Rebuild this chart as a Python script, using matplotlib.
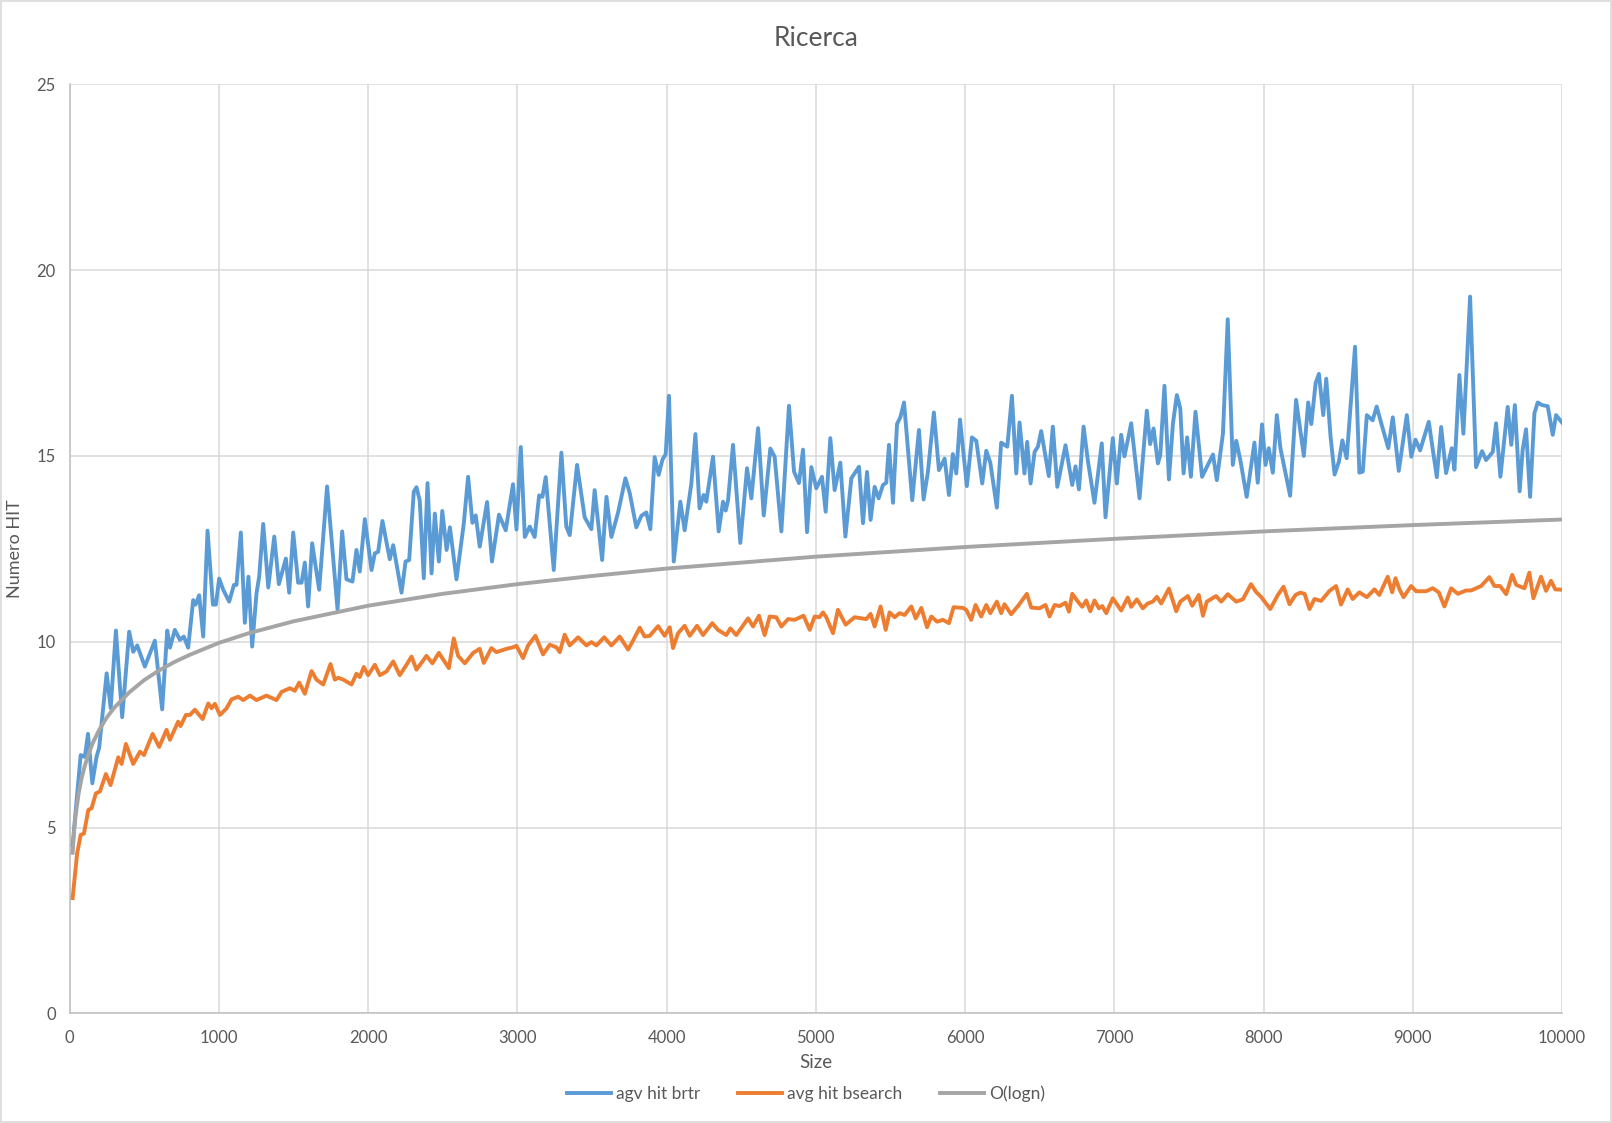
import matplotlib
matplotlib.use("Agg")
import matplotlib.pyplot as plt
from matplotlib.patches import Rectangle

title = "Ricerca"
x_label = "Size"
y_label = "Numero HIT"
series_names = ["agv hit brtr", "avg hit bsearch", "O(logn)"]
x_ticks = list(range(0, 10001, 1000))
y_ticks = [0, 5, 10, 15, 20, 25]

brtr_size = [20, 74, 102, 123, 152, 180, 198, 248, 275, 310, 352, 399, 426, 453, 504, 571, 620, 654, 672, 705,
             739, 765, 794, 828, 844, 868, 895, 924, 960, 980, 1002, 1029, 1069, 1101, 1118, 1147, 1174, 1198, 1223, 1252,
             1270, 1297, 1331, 1371, 1402, 1449, 1471, 1498, 1531, 1554, 1576, 1598, 1625, 1672, 1725, 1795, 1826, 1855, 1895, 1922,
             1944, 1978, 2023, 2045, 2067, 2096, 2145, 2168, 2224, 2251, 2275, 2306, 2324, 2346, 2373, 2398, 2425, 2447, 2474, 2497,
             2526, 2548, 2592, 2641, 2670, 2699, 2721, 2748, 2797, 2830, 2877, 2922, 2971, 2994, 3023, 3050, 3083, 3116, 3146, 3168,
             3190, 3244, 3295, 3328, 3351, 3400, 3451, 3496, 3518, 3568, 3597, 3630, 3675, 3724, 3753, 3797, 3831, 3864, 3891, 3920,
             3947, 3972, 3994, 4016, 4048, 4092, 4121, 4166, 4193, 4221, 4248, 4266, 4311, 4349, 4378, 4396, 4412, 4445, 4494, 4539,
             4568, 4613, 4651, 4695, 4724, 4769, 4820, 4854, 4887, 4914, 4941, 4970, 5003, 5041, 5066, 5097, 5126, 5164, 5198, 5238,
             5289, 5316, 5343, 5367, 5394, 5421, 5450, 5472, 5490, 5517, 5544, 5566, 5591, 5646, 5691, 5722, 5751, 5791, 5825, 5863,
             5892, 5918, 5941, 5966, 6012, 6046, 6075, 6115, 6142, 6169, 6213, 6242, 6283, 6314, 6343, 6365, 6398, 6416, 6439, 6466,
             6488, 6510, 6561, 6588, 6618, 6673, 6718, 6740, 6763, 6794, 6823, 6867, 6916, 6941, 6990, 7017, 7046, 7068, 7090, 7113,
             7169, 7218, 7240, 7263, 7292, 7308, 7336, 7366, 7393, 7419, 7442, 7464, 7488, 7513, 7544, 7588, 7661, 7687, 7728, 7760,
             7794, 7817, 7845, 7887, 7939, 7961, 7990, 8013, 8035, 8062, 8089, 8113, 8178, 8218, 8270, 8299, 8320, 8349, 8371, 8400,
             8420, 8449, 8476, 8505, 8528, 8557, 8613, 8642, 8665, 8692, 8731, 8758, 8795, 8836, 8866, 8906, 8960, 8990, 9018, 9049,
             9107, 9161, 9190, 9223, 9261, 9279, 9312, 9339, 9384, 9424, 9464, 9491, 9536, 9558, 9587, 9613, 9636, 9660, 9684, 9716,
             9736, 9759, 9786, 9815, 9837, 9866, 9904, 9938, 9960, 10000]
brtr_hits = [4.53, 6.95, 6.90, 7.52, 6.19, 6.90, 7.15, 9.15, 8.21, 10.30, 7.97, 10.27, 9.73, 9.90, 9.33, 10.03, 8.18, 10.30, 9.84, 10.32,
             10.05, 10.14, 9.84, 11.12, 11.00, 11.25, 10.14, 12.99, 11.00, 11.00, 11.70, 11.40, 11.08, 11.53, 11.53, 12.94, 10.51, 11.75, 9.87, 11.30,
             11.75, 13.17, 11.46, 12.83, 11.55, 12.24, 11.32, 12.94, 11.59, 11.59, 12.13, 10.95, 12.65, 11.40, 14.18, 10.87, 12.97, 11.68, 11.62, 12.47,
             11.89, 13.30, 11.93, 12.38, 12.42, 13.25, 12.22, 12.60, 11.32, 12.16, 12.20, 14.04, 14.16, 13.80, 11.71, 14.27, 11.84, 13.45, 12.16, 13.52,
             12.47, 13.08, 11.68, 13.18, 14.44, 13.20, 13.40, 12.56, 13.76, 12.16, 13.42, 13.00, 14.24, 13.02, 15.24, 12.82, 13.10, 12.82, 13.94, 13.90,
             14.43, 11.93, 15.09, 13.10, 12.87, 14.76, 13.35, 13.03, 14.08, 12.20, 13.90, 12.82, 13.48, 14.40, 14.00, 13.08, 13.39, 13.48, 13.03, 14.97,
             14.49, 14.90, 15.05, 16.62, 12.16, 13.77, 13.00, 14.26, 15.59, 13.59, 13.95, 13.77, 14.98, 12.97, 13.77, 13.53, 13.81, 15.30, 12.66, 14.67,
             13.86, 15.75, 13.40, 15.20, 14.98, 12.97, 16.35, 14.58, 14.27, 15.17, 12.95, 14.70, 14.13, 14.44, 13.50, 15.48, 14.08, 14.82, 12.83, 14.40,
             14.71, 13.19, 14.57, 13.28, 14.17, 13.86, 14.22, 14.28, 15.30, 13.74, 15.86, 16.04, 16.44, 13.81, 15.70, 13.83, 14.57, 16.17, 14.62, 14.93,
             13.95, 15.05, 14.53, 15.98, 14.19, 15.50, 15.41, 14.26, 15.14, 14.82, 13.61, 15.36, 15.25, 16.62, 14.53, 15.90, 14.53, 15.38, 14.26, 15.11,
             15.25, 15.67, 14.46, 15.79, 14.17, 15.29, 14.22, 14.72, 14.10, 15.79, 14.87, 13.74, 15.34, 13.35, 15.48, 14.26, 15.57, 14.99, 15.43, 15.88,
             13.86, 16.22, 15.32, 15.74, 14.80, 15.02, 16.89, 14.37, 15.88, 16.64, 16.28, 14.53, 15.50, 14.44, 16.19, 14.44, 15.04, 14.35, 15.61, 18.68,
             14.76, 15.41, 14.88, 13.90, 15.36, 14.28, 15.85, 14.76, 15.21, 14.55, 16.10, 15.21, 13.93, 16.51, 15.00, 16.44, 15.86, 16.96, 17.21, 16.10,
             17.08, 15.52, 14.50, 14.85, 15.42, 14.94, 17.94, 14.55, 14.58, 16.10, 15.96, 16.33, 15.79, 15.21, 16.04, 14.60, 16.10, 14.98, 15.44, 15.15,
             15.92, 14.43, 15.78, 14.54, 15.21, 14.63, 17.18, 15.60, 19.29, 14.70, 15.13, 14.89, 15.11, 15.88, 14.44, 15.43, 16.32, 15.30, 16.37, 14.05,
             15.16, 15.72, 13.90, 16.15, 16.44, 16.37, 16.34, 15.57, 16.10, 15.90]

bsearch_size = [20, 50, 74, 96, 125, 147, 176, 203, 243, 274, 326, 348, 377, 426, 471, 498, 556, 600, 649, 672,
                727, 743, 779, 806, 839, 891, 929, 951, 973, 1007, 1050, 1085, 1129, 1163, 1208, 1252, 1319, 1386, 1420, 1476,
                1509, 1538, 1576, 1621, 1654, 1699, 1748, 1777, 1800, 1833, 1889, 1922, 1944, 1971, 2000, 2045, 2079, 2123, 2168, 2212,
                2257, 2291, 2324, 2391, 2431, 2474, 2541, 2574, 2603, 2648, 2704, 2748, 2775, 2826, 2860, 2927, 2971, 2994, 3038, 3072,
                3121, 3172, 3217, 3262, 3284, 3317, 3351, 3407, 3463, 3496, 3530, 3582, 3630, 3686, 3742, 3775, 3820, 3853, 3887, 3943,
                3987, 4021, 4043, 4077, 4121, 4155, 4204, 4244, 4306, 4344, 4400, 4427, 4467, 4546, 4579, 4619, 4657, 4691, 4735, 4769,
                4814, 4858, 4918, 4959, 4992, 5025, 5048, 5070, 5115, 5148, 5200, 5260, 5338, 5367, 5394, 5434, 5468, 5494, 5528, 5561,
                5595, 5640, 5669, 5707, 5745, 5774, 5812, 5852, 5892, 5923, 5986, 6008, 6041, 6070, 6108, 6142, 6169, 6213, 6242, 6264,
                6309, 6360, 6414, 6443, 6499, 6539, 6566, 6600, 6633, 6673, 6696, 6718, 6756, 6785, 6812, 6839, 6867, 6897, 6919, 6946,
                6990, 7046, 7090, 7113, 7151, 7191, 7224, 7258, 7285, 7314, 7366, 7415, 7442, 7493, 7522, 7566, 7594, 7620, 7682, 7716,
                7760, 7817, 7861, 7916, 7950, 7983, 8045, 8096, 8134, 8174, 8214, 8245, 8275, 8308, 8341, 8386, 8442, 8486, 8519, 8564,
                8597, 8642, 8692, 8743, 8776, 8832, 8862, 8884, 8911, 8938, 8989, 9022, 9089, 9134, 9174, 9212, 9257, 9302, 9357, 9391,
                9458, 9513, 9547, 9585, 9626, 9666, 9693, 9748, 9781, 9808, 9859, 9893, 9926, 9955, 10000]
bsearch_hits = [3.10, 4.30, 4.80, 4.84, 5.47, 5.52, 5.92, 5.97, 6.44, 6.14, 6.89, 6.71, 7.25, 6.71, 7.04, 6.95, 7.52, 7.17, 7.63, 7.36,
                7.85, 7.73, 8.03, 8.03, 8.17, 7.92, 8.34, 8.21, 8.33, 8.03, 8.20, 8.45, 8.52, 8.43, 8.55, 8.43, 8.55, 8.43, 8.65, 8.75,
                8.68, 8.90, 8.60, 9.21, 8.98, 8.85, 9.40, 8.98, 9.03, 8.98, 8.85, 9.14, 9.05, 9.32, 9.10, 9.38, 9.10, 9.20, 9.47, 9.10,
                9.38, 9.60, 9.25, 9.62, 9.42, 9.70, 9.29, 10.09, 9.62, 9.42, 9.70, 9.81, 9.43, 9.83, 9.72, 9.81, 9.85, 9.89, 9.56, 9.90,
                10.16, 9.66, 9.92, 9.85, 9.72, 10.19, 9.90, 10.12, 9.90, 9.99, 9.90, 10.12, 9.90, 10.14, 9.79, 10.03, 10.38, 10.14, 10.16, 10.42,
                10.16, 10.39, 9.83, 10.23, 10.43, 10.16, 10.43, 10.18, 10.50, 10.32, 10.18, 10.36, 10.18, 10.63, 10.41, 10.70, 10.18, 10.68, 10.66, 10.41,
                10.61, 10.59, 10.70, 10.32, 10.68, 10.66, 10.79, 10.66, 10.23, 10.86, 10.46, 10.66, 10.61, 10.75, 10.41, 10.95, 10.32, 10.79, 10.66, 10.77,
                10.72, 10.95, 10.63, 10.91, 10.39, 10.68, 10.54, 10.59, 10.50, 10.93, 10.91, 10.86, 10.59, 10.99, 10.68, 10.99, 10.77, 11.08, 10.77, 11.01,
                10.74, 10.99, 11.29, 10.92, 10.90, 10.99, 10.68, 10.99, 10.96, 11.05, 10.81, 11.29, 11.08, 10.94, 11.11, 10.82, 11.11, 10.90, 10.96, 10.77,
                11.17, 10.84, 11.19, 10.94, 11.14, 10.90, 11.03, 11.08, 11.21, 11.03, 11.43, 10.82, 11.08, 11.23, 10.97, 11.26, 10.70, 11.08, 11.23, 11.08,
                11.28, 11.08, 11.14, 11.55, 11.34, 11.21, 10.88, 11.26, 11.48, 11.01, 11.26, 11.32, 11.29, 10.88, 11.15, 11.10, 11.37, 11.50, 11.00, 11.41,
                11.15, 11.33, 11.20, 11.41, 11.26, 11.75, 11.33, 11.71, 11.41, 11.20, 11.50, 11.36, 11.36, 11.44, 11.33, 10.95, 11.44, 11.29, 11.38, 11.38,
                11.50, 11.74, 11.50, 11.50, 11.28, 11.80, 11.53, 11.44, 11.86, 11.17, 11.75, 11.37, 11.64, 11.41, 11.40]

logn_size = [20, 30, 40, 60, 80, 100, 130, 160, 200, 250, 300, 400, 500, 600, 700, 800, 1000, 1200, 1500, 2000,
             2500, 3000, 3500, 4000, 5000, 6000, 7000, 8000, 9000, 10000]
logn_hits = [4.32, 4.91, 5.32, 5.91, 6.32, 6.64, 7.02, 7.32, 7.64, 7.97, 8.23, 8.64, 8.97, 9.23, 9.45, 9.64, 9.97, 10.23, 10.55, 10.97,
             11.29, 11.55, 11.77, 11.97, 12.29, 12.55, 12.77, 12.97, 13.14, 13.29]

plt.rcParams['font.family'] = ['Lato', 'DejaVu Sans']
text_color = "#595959"
grid_color = "#D9D9D9"

fig = plt.figure(figsize=(16.12, 11.23), dpi=100)
ax = fig.add_axes([0.0432, 0.0977, 0.9258, 0.8271])

ax.plot(brtr_size, brtr_hits, color="#5B9BD5", lw=2.8, solid_joinstyle="round", label=series_names[0], zorder=3)
ax.plot(bsearch_size, bsearch_hits, color="#ED7D31", lw=2.8, solid_joinstyle="round", label=series_names[1], zorder=3)
ax.plot(logn_size, logn_hits, color="#A5A5A5", lw=2.8, solid_joinstyle="round", label=series_names[2], zorder=3)

ax.set_xlim(0, 10000)
ax.set_ylim(0, 25)
ax.set_xticks(x_ticks)
ax.set_yticks(y_ticks)
ax.grid(True, color=grid_color, lw=1.1, zorder=0)
for s in ["top", "right"]:
    ax.spines[s].set_visible(False)
for s in ["left", "bottom"]:
    ax.spines[s].set_color("#BFBFBF")
    ax.spines[s].set_linewidth(1.1)
ax.tick_params(length=0, labelsize=12, labelcolor=text_color, pad=12)
ax.tick_params(axis='y', pad=10)

ax.set_title(title, fontsize=19, color=text_color, pad=28)
ax.set_xlabel(x_label, fontsize=13.5, color=text_color, labelpad=6)
ax.set_ylabel(y_label, fontsize=13, color=text_color, labelpad=10)

leg = fig.legend(loc="lower center", bbox_to_anchor=(0.5, 0.005), ncol=3, frameon=False,
                 fontsize=12.5, handlelength=2.5, columnspacing=2.2, handletextpad=0.3)
for t in leg.get_texts():
    t.set_color(text_color)

fig.patches.append(Rectangle((0.0005, 0.0005), 0.999, 0.999, transform=fig.transFigure,
                             fill=False, edgecolor="#D9D9D9", lw=1.2))

fig.savefig("out.png", dpi=100, facecolor="white")
